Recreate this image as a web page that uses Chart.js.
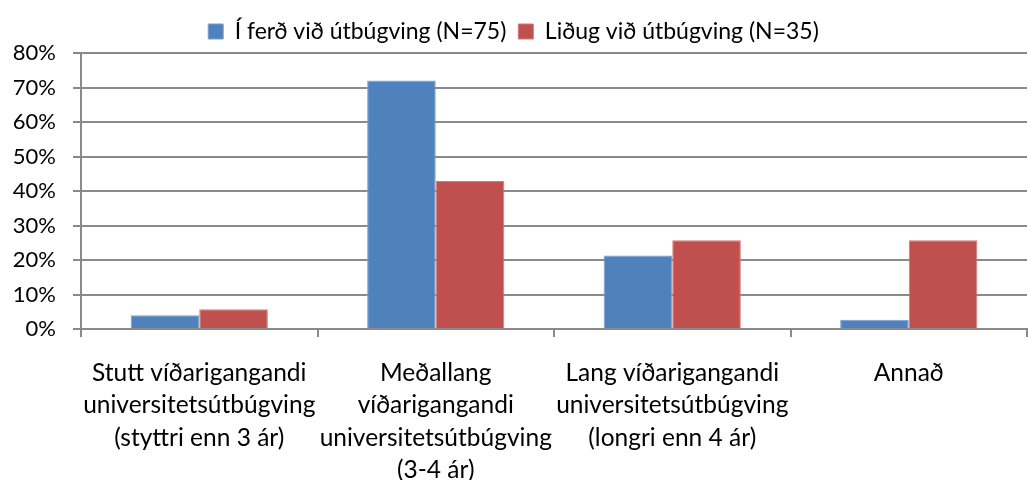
<!DOCTYPE html>
<html>
<head>
<meta charset="utf-8">
<script src="https://cdn.jsdelivr.net/npm/chart.js@4/dist/chart.umd.min.js"></script>
<style>
  html, body { margin: 0; padding: 0; background: #fff; }
  #wrap { width: 1028px; height: 480px; }
</style>
</head>
<body>
<div id="wrap"><canvas id="myChart"></canvas></div>
<script>
const categories = [
    ['Stutt víðarigangandi', 'universitetsútbúgving', '(styttri enn 3 ár)'],
    ['Meðallang', 'víðarigangandi', 'universitetsútbúgving', '(3-4 ár)'],
    ['Lang víðarigangandi', 'universitetsútbúgving', '(longri enn 4 ár)'],
    ['Annað']
];
const seriesNames = ['Í ferð við útbúgving (N=75)', 'Liðug við útbúgving (N=35)'];
const inTraining = [4.0, 72.0, 21.3, 2.7];
const finished = [5.7, 42.9, 25.7, 25.7];
const yTicks = [0, 10, 20, 30, 40, 50, 60, 70, 80];

const gridColor = '#8a8a8a';
const font = 'Lato';

const ctx = document.getElementById('myChart').getContext('2d');
const myChart = new Chart(ctx, {
    type: 'bar',
    data: {
        labels: categories,
        datasets: [
            { label: seriesNames[0], data: inTraining, backgroundColor: '#4F81BD', borderColor: '#7a9fd0', borderWidth: 1 },
            { label: seriesNames[1], data: finished, backgroundColor: '#C0504D', borderColor: '#d27a78', borderWidth: 1 }
        ]
    },
    options: {
        responsive: true,
        maintainAspectRatio: false,
        animation: false,
        layout: { padding: { left: 0, right: 1, top: 8, bottom: 0 } },
        datasets: { bar: { categoryPercentage: 0.58, barPercentage: 1.0 } },
        plugins: {
            legend: {
                position: 'top',
                labels: {
                    font: { family: font, size: 23 },
                    color: '#000',
                    boxWidth: 15,
                    boxHeight: 15,
                    padding: 12
                }
            },
            tooltip: { enabled: false }
        },
        scales: {
            x: {
                grid: { drawOnChartArea: false, color: gridColor, lineWidth: 2, tickLength: 8 },
                border: { color: gridColor, width: 2 },
                ticks: { font: { family: font, size: 24.5, lineHeight: 1.32 }, color: '#000', padding: 20, maxRotation: 0, autoSkip: false },
                afterFit: s => { s.height = 151; }
            },
            y: {
                min: 0,
                max: 80,
                afterBuildTicks: s => { s.ticks = yTicks.map(v => ({ value: v })); },
                grid: { color: gridColor, lineWidth: 2, tickLength: 8 },
                border: { color: gridColor, width: 2 },
                ticks: { font: { family: font, size: 22 }, color: '#000', padding: 17, callback: v => v + '%' },
                afterFit: s => { s.width = 81; }
            }
        }
    }
});
</script>
</body>
</html>
